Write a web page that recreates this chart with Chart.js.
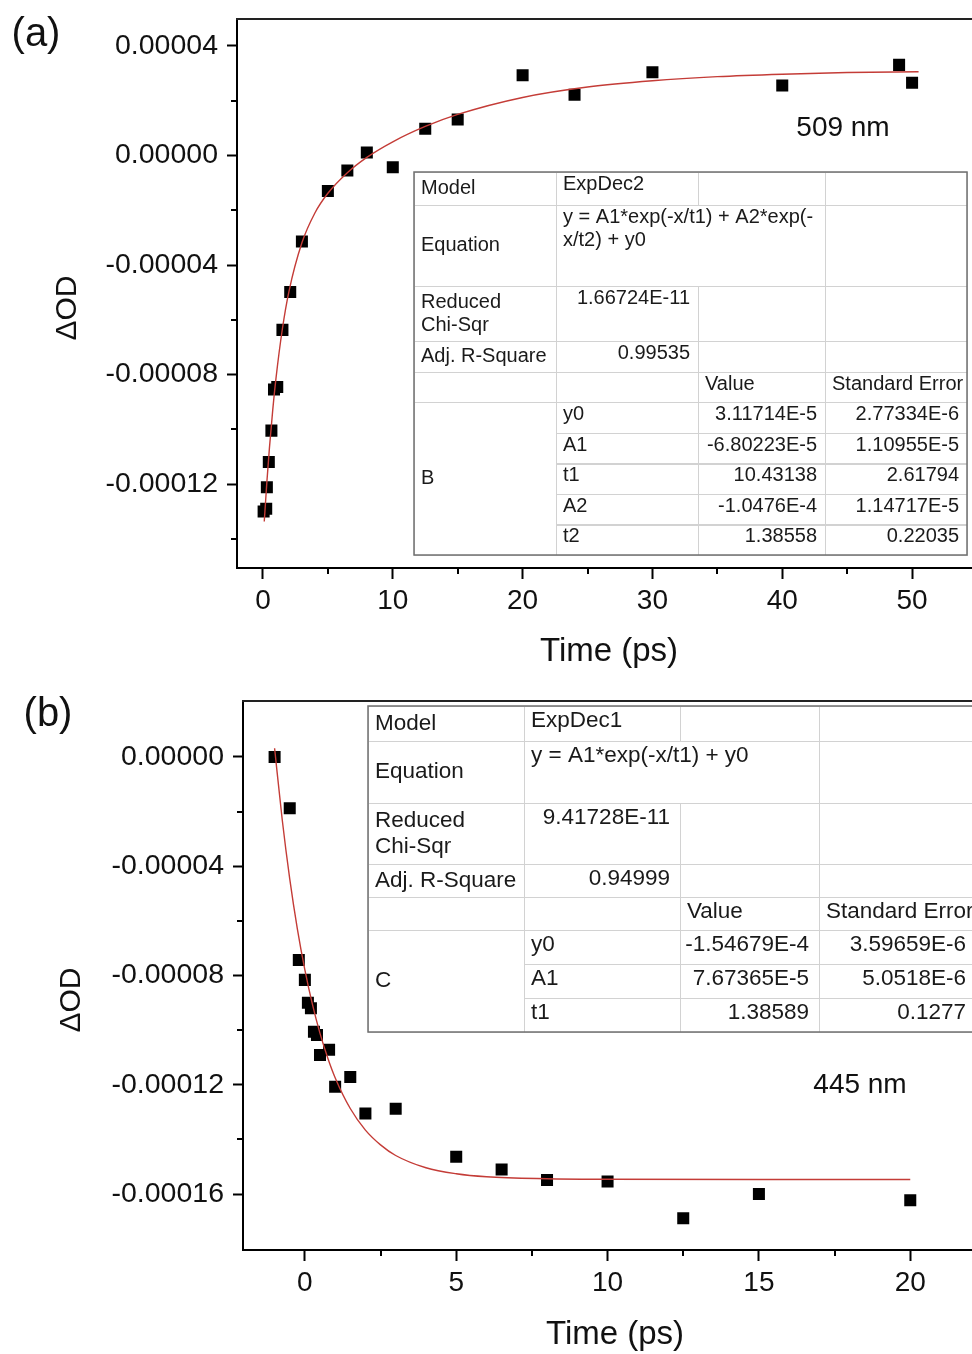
<!DOCTYPE html>
<html>
<head>
<meta charset="utf-8">
<script src="https://cdn.jsdelivr.net/npm/chart.js@4.4.0/dist/chart.umd.min.js"></script>
<style>
html, body { margin: 0; padding: 0; background: #fff; overflow: hidden; }
.box { position: absolute; left: 0; width: 979px; }
</style>
</head>
<body>
<div class="box" style="top:0;height:680px"><canvas id="chartA"></canvas></div>
<div class="box" style="top:680px;height:674px"><canvas id="chartB"></canvas></div>
<script>
const FONT = "'Liberation Sans', Arial, Helvetica, sans-serif";

// (a) 509 nm - measured points
const timeA = [0.05, 0.25, 0.3, 0.45, 0.65, 0.85, 1.1, 1.5, 2.1, 3.0, 5.0, 6.5, 8.0, 10.0, 12.5, 15.0, 20.0, 24.0, 30.0, 40.0, 49.0, 50.0];
const odA = [-1.30e-4, -1.29e-4, -1.212e-4, -1.12e-4, -1.005e-4, -8.55e-5, -8.46e-5, -6.37e-5, -4.99e-5, -3.14e-5, -1.30e-5, -5.5e-6, 1.1e-6, -4.3e-6, 9.75e-6, 1.315e-5, 2.93e-5, 2.22e-5, 3.04e-5, 2.56e-5, 3.31e-5, 2.66e-5];
// (a) fit curve
const fitTimeA = [0.1, 0.3, 0.5, 0.75, 1, 1.5, 2, 3, 4, 5, 6.5, 8, 10, 12.5, 15, 20, 25, 30, 35, 40, 45, 50.5];
const fitOdA = [-1.337e-4, -1.193e-4, -1.067e-4, -9.31e-5, -8.15e-5, -6.32e-5, -4.97e-5, -3.19e-5, -2.10e-5, -1.38e-5, -6.3e-6, -7e-7, 5.0e-6, 1.06e-5, 1.50e-5, 2.12e-5, 2.50e-5, 2.73e-5, 2.88e-5, 2.97e-5, 3.03e-5, 3.06e-5];
const xTicksA = [0, 10, 20, 30, 40, 50];
const xMinorA = [5, 15, 25, 35, 45];
const yTicksA = [-0.00012, -0.00008, -0.00004, 0, 0.00004];
const yMinorA = [-0.00014, -0.0001, -0.00006, -0.00002, 0.00002];

// (b) 445 nm - measured points
const timeB = [-1.0, -0.5, -0.2, 0.0, 0.1, 0.2, 0.3, 0.4, 0.5, 0.8, 1.0, 1.5, 2.0, 3.0, 5.0, 6.5, 8.0, 10.0, 12.5, 15.0, 20.0];
const odB = [0, -1.88e-5, -7.43e-5, -8.16e-5, -9.0e-5, -9.2e-5, -1.006e-4, -1.018e-4, -1.091e-4, -1.072e-4, -1.207e-4, -1.172e-4, -1.305e-4, -1.288e-4, -1.464e-4, -1.51e-4, -1.549e-4, -1.554e-4, -1.689e-4, -1.60e-4, -1.623e-4];
const fitTimeB = [-1, -0.75, -0.5, -0.25, 0, 0.25, 0.5, 0.75, 1, 1.5, 2, 2.5, 3, 4, 5, 6, 8, 10, 15, 20];
const fitOdB = [3.2e-6, -2.28e-5, -4.46e-5, -6.28e-5, -7.79e-5, -9.06e-5, -1.012e-4, -1.100e-4, -1.174e-4, -1.287e-4, -1.366e-4, -1.420e-4, -1.459e-4, -1.504e-4, -1.526e-4, -1.537e-4, -1.544e-4, -1.546e-4, -1.547e-4, -1.547e-4];
const xTicksB = [0, 5, 10, 15, 20];
const xMinorB = [2.5, 7.5, 12.5, 17.5];
const yTicksB = [-0.00016, -0.00012, -0.00008, -0.00004, 0];
const yMinorB = [-0.00018, -0.00014, -0.0001, -0.00006, -0.00002];

// fit tables
const tableA = {
  size: 20, top: 12.5, lh: 23, padL: 7, padR: 8,
  xs: [414, 556, 698, 825, 967],
  ys: [172, 205, 286, 341, 372, 402, 432.6, 463.2, 493.8, 524.4, 555],
  cells: [
    [0, 1, 0, 1, ['Model'], 'left', 'mid'], [1, 2, 0, 1, ['ExpDec2'], 'left', 'top'], [2, 3, 0, 1, [''], 'left', 'top'], [3, 4, 0, 1, [''], 'left', 'top'],
    [0, 1, 1, 2, ['Equation'], 'left', 'mid'], [1, 3, 1, 2, ['y = A1*exp(-x/t1) + A2*exp(-', 'x/t2) + y0'], 'left', 'top'], [3, 4, 1, 2, [''], 'left', 'top'],
    [0, 1, 2, 3, ['Reduced', 'Chi-Sqr'], 'left', 'mid'], [1, 2, 2, 3, ['1.66724E-11'], 'right', 'top'], [2, 3, 2, 3, [''], 'left', 'top'], [3, 4, 2, 3, [''], 'left', 'top'],
    [0, 1, 3, 4, ['Adj. R-Square'], 'left', 'mid'], [1, 2, 3, 4, ['0.99535'], 'right', 'top'], [2, 3, 3, 4, [''], 'left', 'top'], [3, 4, 3, 4, [''], 'left', 'top'],
    [0, 1, 4, 5, [''], 'left', 'mid'], [1, 2, 4, 5, [''], 'left', 'top'], [2, 3, 4, 5, ['Value'], 'left', 'top'], [3, 4, 4, 5, ['Standard Error'], 'left', 'top'],
    [0, 1, 5, 10, ['B'], 'left', 'mid'],
    [1, 2, 5, 6, ['y0'], 'left', 'top'], [2, 3, 5, 6, ['3.11714E-5'], 'right', 'top'], [3, 4, 5, 6, ['2.77334E-6'], 'right', 'top'],
    [1, 2, 6, 7, ['A1'], 'left', 'top'], [2, 3, 6, 7, ['-6.80223E-5'], 'right', 'top'], [3, 4, 6, 7, ['1.10955E-5'], 'right', 'top'],
    [1, 2, 7, 8, ['t1'], 'left', 'top'], [2, 3, 7, 8, ['10.43138'], 'right', 'top'], [3, 4, 7, 8, ['2.61794'], 'right', 'top'],
    [1, 2, 8, 9, ['A2'], 'left', 'top'], [2, 3, 8, 9, ['-1.0476E-4'], 'right', 'top'], [3, 4, 8, 9, ['1.14717E-5'], 'right', 'top'],
    [1, 2, 9, 10, ['t2'], 'left', 'top'], [2, 3, 9, 10, ['1.38558'], 'right', 'top'], [3, 4, 9, 10, ['0.22035'], 'right', 'top']
  ]
};
const tableB = {
  size: 22.5, top: 14.5, lh: 26, padL: 7, padR: 10,
  xs: [368, 524, 680, 819, 976],
  ys: [706, 741, 803, 864, 897, 930, 964, 998, 1032],
  cells: [
    [0, 1, 0, 1, ['Model'], 'left', 'mid'], [1, 2, 0, 1, ['ExpDec1'], 'left', 'top'], [2, 3, 0, 1, [''], 'left', 'top'], [3, 4, 0, 1, [''], 'left', 'top'],
    [0, 1, 1, 2, ['Equation'], 'left', 'mid'], [1, 3, 1, 2, ['y = A1*exp(-x/t1) + y0'], 'left', 'top'], [3, 4, 1, 2, [''], 'left', 'top'],
    [0, 1, 2, 3, ['Reduced', 'Chi-Sqr'], 'left', 'mid'], [1, 2, 2, 3, ['9.41728E-11'], 'right', 'top'], [2, 3, 2, 3, [''], 'left', 'top'], [3, 4, 2, 3, [''], 'left', 'top'],
    [0, 1, 3, 4, ['Adj. R-Square'], 'left', 'mid'], [1, 2, 3, 4, ['0.94999'], 'right', 'top'], [2, 3, 3, 4, [''], 'left', 'top'], [3, 4, 3, 4, [''], 'left', 'top'],
    [0, 1, 4, 5, [''], 'left', 'mid'], [1, 2, 4, 5, [''], 'left', 'top'], [2, 3, 4, 5, ['Value'], 'left', 'top'], [3, 4, 4, 5, ['Standard Error'], 'left', 'top'],
    [0, 1, 5, 8, ['C'], 'left', 'mid'],
    [1, 2, 5, 6, ['y0'], 'left', 'top'], [2, 3, 5, 6, ['-1.54679E-4'], 'right', 'top'], [3, 4, 5, 6, ['3.59659E-6'], 'right', 'top'],
    [1, 2, 6, 7, ['A1'], 'left', 'top'], [2, 3, 6, 7, ['7.67365E-5'], 'right', 'top'], [3, 4, 6, 7, ['5.0518E-6'], 'right', 'top'],
    [1, 2, 7, 8, ['t1'], 'left', 'top'], [2, 3, 7, 8, ['1.38589'], 'right', 'top'], [3, 4, 7, 8, ['0.1277'], 'right', 'top']
  ]
};

function drawTable(ctx, t, dy) {
  ctx.save();
  const last = t.ys.length - 1;
  ctx.fillStyle = '#fff';
  ctx.fillRect(t.xs[0], t.ys[0] - dy, t.xs[4] - t.xs[0], t.ys[last] - t.ys[0]);
  ctx.font = t.size + 'px ' + FONT;
  ctx.textBaseline = 'middle';
  t.cells.forEach(c => {
    const x0 = t.xs[c[0]], x1 = t.xs[c[1]];
    const y0 = t.ys[c[2]] - dy, y1 = t.ys[c[3]] - dy;
    ctx.strokeStyle = '#d2d2d2';
    ctx.lineWidth = 1;
    ctx.strokeRect(Math.round(x0) + 0.5, Math.round(y0) + 0.5, Math.round(x1 - x0), Math.round(y1 - y0));
    const lines = c[4];
    let cy = c[6] === 'mid' ? (y0 + y1) / 2 - (lines.length - 1) * t.lh / 2 : y0 + t.top;
    ctx.fillStyle = '#1a1a1a';
    ctx.textAlign = c[5];
    lines.forEach(s => {
      ctx.fillText(s, c[5] === 'right' ? x1 - t.padR : x0 + t.padL, cy);
      cy += t.lh;
    });
  });
  ctx.strokeStyle = '#707070';
  ctx.lineWidth = 1.5;
  ctx.strokeRect(t.xs[0], t.ys[0] - dy, t.xs[4] - t.xs[0], t.ys[last] - t.ys[0]);
  ctx.restore();
}

function makeDecor(cfg) {
  return {
    id: 'decor',
    afterDraw(chart) {
      const ctx = chart.ctx, a = chart.chartArea;
      const xs = chart.scales.x, ys = chart.scales.y;
      ctx.save();
      // frame top, axis continued to the page edge
      ctx.strokeStyle = '#222';
      ctx.lineWidth = 2;
      ctx.beginPath();
      ctx.moveTo(a.left - 1, a.top);
      ctx.lineTo(chart.width, a.top);
      ctx.stroke();
      ctx.strokeStyle = '#000';
      ctx.beginPath();
      ctx.moveTo(a.right - 2, a.bottom);
      ctx.lineTo(chart.width, a.bottom);
      ctx.stroke();
      // minor ticks
      ctx.beginPath();
      cfg.yMinor.forEach(v => {
        const p = Math.round(ys.getPixelForValue(v));
        if (p > a.top + 2 && p < a.bottom - 2) { ctx.moveTo(a.left - 6, p); ctx.lineTo(a.left, p); }
      });
      cfg.xMinor.forEach(v => {
        const p = Math.round(xs.getPixelForValue(v));
        ctx.moveTo(p, a.bottom); ctx.lineTo(p, a.bottom + 6);
      });
      ctx.stroke();
      // labels
      ctx.fillStyle = '#111';
      ctx.textBaseline = 'middle';
      cfg.texts.forEach(t => {
        ctx.save();
        ctx.font = t.size + 'px ' + FONT;
        ctx.textAlign = 'center';
        ctx.translate(t.x, t.y);
        if (t.rot) ctx.rotate(t.rot);
        ctx.fillText(t.s, 0, 0);
        ctx.restore();
      });
      ctx.restore();
      drawTable(ctx, cfg.table, cfg.dy);
    }
  };
}

function noPad(s) {
  s.paddingTop = 0; s.paddingBottom = 0; s.paddingLeft = 0; s.paddingRight = 0;
}

function buildChart(id, cfg) {
  const pts = cfg.time.map((t, i) => ({ x: t, y: cfg.od[i] }));
  const fit = cfg.fitTime.map((t, i) => ({ x: t, y: cfg.fitOd[i] }));
  return new Chart(document.getElementById(id), {
    type: 'scatter',
    data: {
      datasets: [
        { data: fit, showLine: true, borderColor: 'rgb(196,60,55)', borderWidth: 1.4, pointRadius: 0, cubicInterpolationMode: 'monotone', order: 0 },
        { data: pts, pointStyle: 'rect', pointRadius: 8.5, pointHoverRadius: 8.5, backgroundColor: '#000', borderWidth: 0, order: 1 }
      ]
    },
    options: {
      responsive: true,
      maintainAspectRatio: false,
      animation: false,
      events: [],
      layout: { padding: { top: cfg.top, right: 0, left: 0, bottom: 0 } },
      plugins: { legend: { display: false }, tooltip: { enabled: false } },
      scales: {
        x: {
          type: 'linear', min: cfg.xmin, max: cfg.xmax,
          afterBuildTicks: s => { s.ticks = cfg.xTicks.map(v => ({ value: v })); },
          afterFit: s => { s.height = cfg.xh; noPad(s); },
          grid: { drawOnChartArea: false, drawTicks: true, tickLength: 11, tickWidth: 2, tickColor: '#000' },
          border: { display: true, color: '#000', width: 2 },
          ticks: { color: '#111', font: { family: FONT, size: 28 }, padding: 5, maxRotation: 0, autoSkip: false }
        },
        y: {
          type: 'linear', min: cfg.ymin, max: cfg.ymax,
          afterBuildTicks: s => { s.ticks = cfg.yTicks.map(v => ({ value: v })); },
          afterFit: s => { s.width = cfg.yw; noPad(s); },
          grid: { drawOnChartArea: false, drawTicks: true, tickLength: 10, tickWidth: 2, tickColor: '#000' },
          border: { display: true, color: '#000', width: 2 },
          ticks: { color: '#111', font: { family: FONT, size: 28.5 }, padding: 9, autoSkip: false,
            callback: v => (Math.abs(v) < 1e-12 ? 0 : v).toFixed(5) }
        }
      }
    },
    plugins: [makeDecor(cfg)]
  });
}

buildChart('chartA', {
  time: timeA, od: odA, fitTime: fitTimeA, fitOd: fitOdA,
  xTicks: xTicksA, xMinor: xMinorA, yTicks: yTicksA, yMinor: yMinorA,
  xmin: -2.0, xmax: 54.5, ymin: -1.5068e-4, ymax: 4.986e-5,
  top: 19, xh: 112, yw: 237, dy: 0, table: tableA,
  texts: [
    { s: '(a)', x: 36, y: 35, size: 40 },
    { s: '\u0394OD', x: 68, y: 308, size: 30, rot: -Math.PI / 2 },
    { s: 'Time (ps)', x: 609, y: 652, size: 33 },
    { s: '509 nm', x: 843, y: 128, size: 28 }
  ]
});

buildChart('chartB', {
  time: timeB, od: odB, fitTime: fitTimeB, fitOd: fitOdB,
  xTicks: xTicksB, xMinor: xMinorB, yTicks: yTicksB, yMinor: yMinorB,
  xmin: -2.044, xmax: 21.99, ymin: -1.805e-4, ymax: 2.05e-5,
  top: 21, xh: 104, yw: 243, dy: 680, table: tableB,
  texts: [
    { s: '(b)', x: 48, y: 715, size: 40 },
    { s: '\u0394OD', x: 72, y: 1000, size: 30, rot: -Math.PI / 2 },
    { s: 'Time (ps)', x: 615, y: 1335, size: 33 },
    { s: '445 nm', x: 860, y: 1085, size: 28 }
  ].map(t => Object.assign(t, { y: t.y - 680 }))
});
</script>
</body>
</html>
